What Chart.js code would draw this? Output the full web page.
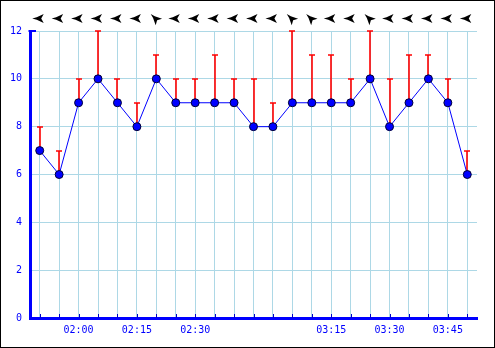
<!DOCTYPE html>
<html>
<head>
<meta charset="utf-8">
<script src="https://cdn.jsdelivr.net/npm/chart.js@4"></script>
<style>
  body { margin: 0; background: #fff; }
  canvas { display: block; }
</style>
</head>
<body>
<canvas id="windChart" width="495" height="348"></canvas>
<script>
const times = ['01:50', '01:55', '02:00', '02:05', '02:10', '02:15', '02:20', '02:25', '02:30', '02:35', '02:40', '02:47',
  '02:52', '03:04', '03:10', '03:15', '03:20', '03:25', '03:30', '03:35', '03:40', '03:45', '03:50'];
const speed = [7, 6, 9, 10, 9, 8, 10, 9, 9, 9, 9, 8, 8, 9, 9, 9, 9, 10, 8, 9, 10, 9, 6];
const gust = [8, 7, 10, 12, 10, 9, 11, 10, 10, 11, 10, 10, 9, 12, 11, 11, 10, 12, 10, 11, 11, 10, 7];
const dirs = [90, 90, 90, 90, 90, 90, 135, 90, 90, 90, 90, 90, 90, 135, 135, 90, 90, 135, 90, 90, 90, 90, 90];
const yTicks = [0, 2, 4, 6, 8, 10, 12];

const font = { family: 'DejaVu Sans Mono', size: 10 };

// extras: frame, gust whiskers, inner ticks, direction arrows
const extras = {
  id: 'extras',
  beforeDatasetsDraw(chart) {
    const { ctx, scales: { x, y } } = chart;
    ctx.save();
    ctx.strokeStyle = '#ff0000';
    ctx.lineWidth = 1.6;
    gust.forEach((g, i) => {
      const px = Math.round(x.getPixelForValue(i));
      const top = Math.round(y.getPixelForValue(g));
      ctx.beginPath();
      ctx.moveTo(px, y.getPixelForValue(speed[i]));
      ctx.lineTo(px, top);
      ctx.moveTo(px - 3, top);
      ctx.lineTo(px + 3, top);
      ctx.stroke();
    });
    // small ticks above the x axis
    ctx.strokeStyle = '#0000cc';
    ctx.lineWidth = 1;
    times.forEach((t, i) => {
      const px = Math.round(x.getPixelForValue(i)) + 0.5;
      ctx.beginPath();
      ctx.moveTo(px, y.bottom - 4);
      ctx.lineTo(px, y.bottom);
      ctx.stroke();
    });
    ctx.restore();
  },
  afterDraw(chart) {
    const { ctx, scales: { x, y } } = chart;
    ctx.save();
    // stub at top of y axis
    ctx.strokeStyle = '#0000ff';
    ctx.lineWidth = 2;
    ctx.beginPath();
    ctx.moveTo(x.left - 1.5, y.top);
    ctx.lineTo(x.left + 6, y.top);
    ctx.stroke();

    // direction arrows
    ctx.fillStyle = '#000';
    dirs.forEach((d, i) => {
      ctx.save();
      ctx.translate(x.getPixelForValue(i) - 1, 18.5);
      ctx.rotate((d - 90) * Math.PI / 180);
      ctx.beginPath();
      ctx.moveTo(-6.5, 0);
      ctx.lineTo(-2, -1.2);
      ctx.lineTo(5, -4.5);
      ctx.lineTo(2.5, 0);
      ctx.lineTo(5, 4.5);
      ctx.lineTo(-2, 1.2);
      ctx.closePath();
      ctx.fill();
      ctx.restore();
    });

    // outer frame
    ctx.strokeStyle = '#000';
    ctx.lineWidth = 1;
    ctx.strokeRect(0.5, 0.5, chart.width - 1, chart.height - 1);
    ctx.restore();
  }
};

new Chart(document.getElementById('windChart'), {
  type: 'line',
  data: {
    labels: times,
    datasets: [{
      data: speed,
      borderColor: '#0000ff',
      borderWidth: 1,
      pointBackgroundColor: '#0000ff',
      pointBorderColor: '#000033',
      pointBorderWidth: 1,
      pointRadius: 4,
      tension: 0
    }]
  },
  options: {
    responsive: false,
    animation: false,
    layout: { padding: { top: 31, right: 18, left: 0, bottom: 0 } },
    plugins: { legend: { display: false }, tooltip: { enabled: false } },
    scales: {
      x: {
        offset: true,
        afterFit(scale) { scale.height = 30; },
        grid: { color: '#add8e6', drawTicks: false },
        border: { color: '#0000ff', width: 3 },
        ticks: {
          color: '#0000ff',
          font: font,
          padding: 6,
          autoSkip: false,
          maxRotation: 0,
          callback(v) {
            const t = times[v];
            return +t.slice(3) % 15 === 0 ? t : '';
          }
        }
      },
      y: {
        min: 0,
        max: 12,
        afterFit(scale) { scale.width = 30; },
        afterBuildTicks(scale) { scale.ticks = yTicks.map(v => ({ value: v })); },
        grid: { color: '#add8e6', drawTicks: false },
        border: { color: '#0000ff', width: 3 },
        ticks: { color: '#0000ff', font: font, padding: 8 }
      }
    }
  },
  plugins: [extras]
});
</script>
</body>
</html>
